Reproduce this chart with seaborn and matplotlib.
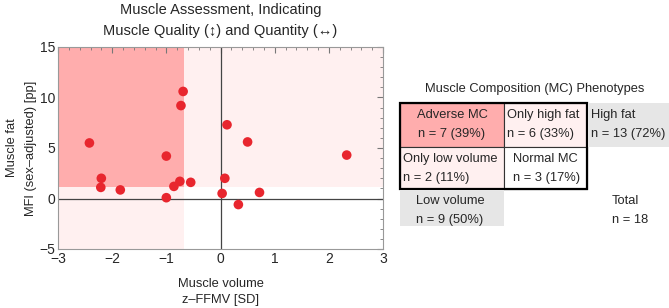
import matplotlib
matplotlib.use("Agg")
import matplotlib.pyplot as plt
from matplotlib.patches import Rectangle
from matplotlib.ticker import MultipleLocator
import seaborn as sns
import pandas as pd

# data
ffmv = [-2.42, -0.69, -0.73, 0.12, 0.50, -1.00, -2.20, -2.21, -1.85,
        -1.00, -0.86, -0.75, -0.55, 0.08, 0.03, 0.33, 0.72, 2.33]
mfi = [5.5, 10.6, 9.2, 7.3, 5.6, 4.2, 2.0, 1.1, 0.85,
       0.08, 1.2, 1.7, 1.6, 2.0, 0.5, -0.6, 0.6, 4.3]
vol_cut = -0.67
fat_cut = 1.1

cells = ["Adverse MC", "Only high fat", "Only low volume", "Normal MC"]
cell_n = [7, 6, 2, 3]
margin_labels = ["High fat", "Low volume", "Total"]
margin_n = [13, 9, 18]

RED = "#e8262e"
DARK = "#ffadad"
LIGHT = "#fff0f0"
GREY = "#e6e6e6"
FS = 9.3

sns.set_style("white")
plt.rcParams["font.family"] = ["Liberation Sans", "DejaVu Sans"]

df = pd.DataFrame({"z-FFMV": ffmv, "MFI": mfi})

W, H = 669, 308
fig = plt.figure(figsize=(W / 100, H / 100), dpi=100)
ax = fig.add_axes([58 / W, 1 - 249 / H, 325 / W, 202 / H])

ax.set_xlim(-3, 3)
ax.set_ylim(-5, 15)
# quadrant shading
ax.add_patch(Rectangle((-3, -5), 6, 20, color=LIGHT, lw=0, zorder=0))
ax.add_patch(Rectangle((vol_cut, -5), 3 - vol_cut, fat_cut + 5, color="white", lw=0, zorder=0))
ax.add_patch(Rectangle((-3, fat_cut), vol_cut + 3, 15 - fat_cut, color=DARK, lw=0, zorder=0))
ax.axhline(0, color="#444444", lw=0.9, zorder=1)
ax.axvline(0, color="#444444", lw=0.9, zorder=1)

sns.scatterplot(data=df, x="z-FFMV", y="MFI", ax=ax, color=RED, s=48,
                edgecolor="none", zorder=3, legend=False)

ax.xaxis.set_major_locator(MultipleLocator(1))
ax.xaxis.set_minor_locator(MultipleLocator(0.2))
ax.yaxis.set_major_locator(MultipleLocator(5))
ax.yaxis.set_minor_locator(MultipleLocator(1))
ax.tick_params(which="both", direction="in", top=True, right=True, color="#777777",
               labelsize=10, pad=2)
ax.tick_params(which="major", length=4)
ax.tick_params(which="minor", length=2)
ax.set_xticklabels([f"{int(t)}".replace("-", "\u2212") for t in ax.get_xticks()])
ax.set_yticklabels([f"{int(t)}".replace("-", "\u2212") for t in ax.get_yticks()])
for s in ax.spines.values():
    s.set_color("#999999")
    s.set_linewidth(0.8)
ax.set_xlabel("Muscle volume\nz\u2013FFMV [SD]", fontsize=FS, linespacing=1.45, labelpad=9)
ax.set_ylabel("Muscle fat\nMFI (sex\u2013adjusted) [pp]", fontsize=FS, linespacing=1.75, labelpad=2)
ax.set_title("Muscle Assessment, Indicating\nMuscle Quality (\u2195) and Quantity (\u2194)",
             fontsize=10.5, linespacing=1.6, pad=9)

# phenotype table, drawn in pixel coordinates
tb = fig.add_axes([0, 0, 1, 1])
tb.set_xlim(0, W)
tb.set_ylim(H, 0)
tb.axis("off")
tb.patch.set_alpha(0)

x0, x1, x2 = 400, 504, 587
y0, y1, y2 = 103, 147, 189
cell_box = [(x0, y0, x1 - x0, y1 - y0, DARK), (x1, y0, x2 - x1, y1 - y0, LIGHT),
            (x0, y1, x1 - x0, y2 - y1, LIGHT), (x1, y1, x2 - x1, y2 - y1, "white")]
text_x = [(x0 + x1) / 2, x1 + 3, x0 + 3, x1 + 9]
text_ha = ["center", "left", "left", "left"]
total = margin_n[2]
for (bx, by, bw, bh, c), lab, n, tx, ha in zip(cell_box, cells, cell_n, text_x, text_ha):
    tb.add_patch(Rectangle((bx, by), bw, bh, facecolor=c, edgecolor="#333333", lw=0.8))
    tb.text(tx, by + 12, lab, ha=ha, va="center", fontsize=FS)
    tb.text(tx, by + 31, f"n = {n} ({round(100 * n / total)}%)", ha=ha, va="center", fontsize=FS)
tb.add_patch(Rectangle((x0, y0), x2 - x0, y2 - y0, fill=False, edgecolor="black", lw=1.6))

# margins
tb.add_patch(Rectangle((x2 + 1, y0), W - x2 - 1, y1 - y0, facecolor=GREY, lw=0))
tb.add_patch(Rectangle((x0, y2 + 1), x1 - x0, 226 - y2 - 1, facecolor=GREY, lw=0))
tb.text(x2 + 4, y0 + 12, margin_labels[0], ha="left", va="center", fontsize=FS)
tb.text(x2 + 4, y0 + 31, f"n = {margin_n[0]} ({round(100 * margin_n[0] / total)}%)",
        ha="left", va="center", fontsize=FS)
tb.text(x0 + 16, y2 + 12, margin_labels[1], ha="left", va="center", fontsize=FS)
tb.text(x0 + 16, y2 + 31, f"n = {margin_n[1]} ({round(100 * margin_n[1] / total)}%)",
        ha="left", va="center", fontsize=FS)
tb.text(612, y2 + 12, margin_labels[2], ha="left", va="center", fontsize=FS)
tb.text(612, y2 + 31, f"n = {margin_n[2]}", ha="left", va="center", fontsize=FS)

tb.text(535, 89, "Muscle Composition (MC) Phenotypes", ha="center", va="center", fontsize=FS)

fig.savefig("out.png", dpi=100)
